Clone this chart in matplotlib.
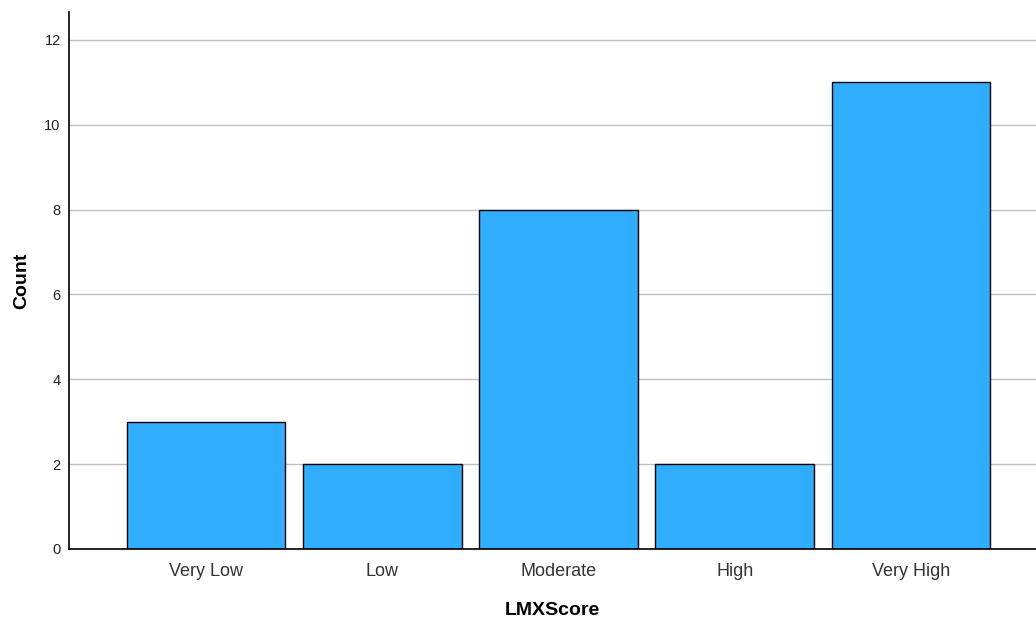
import matplotlib.pyplot as plt

categories = ['Very Low', 'Low', 'Moderate', 'High', 'Very High']
counts = [3, 2, 8, 2, 11]
y_ticks = [0, 2, 4, 6, 8, 10, 12]

plt.rcParams['font.family'] = ['Liberation Sans', 'DejaVu Sans']

fig = plt.figure(figsize=(10.36, 6.2), dpi=100)
ax = fig.add_axes([69 / 1036, 1 - 549 / 620, 1 - 69 / 1036, (549 - 12) / 620])

x = range(len(categories))
ax.bar(x, counts, width=0.9, color='#31adff', edgecolor='black', linewidth=1.0, zorder=3)

ax.set_xlim(-0.777, 4.709)
ax.set_ylim(0, 12.66)
ax.set_yticks(y_ticks)
ax.set_xticks(list(x))
ax.set_xticklabels(categories, fontsize=13, color='#333333')
ax.tick_params(axis='y', labelsize=10.5, length=0, pad=6, labelcolor='#222222')
ax.tick_params(axis='x', length=0, pad=10)
ax.yaxis.grid(True, color='#c0c0c0', linewidth=1.0, zorder=0)

for side in ['top', 'right']:
    ax.spines[side].set_visible(False)
ax.spines['left'].set_linewidth(1.2)
ax.spines['bottom'].set_linewidth(1.2)
ax.spines['left'].set_zorder(4)
ax.spines['bottom'].set_zorder(4)

ax.set_xlabel('LMXScore', fontsize=14, fontweight='bold', labelpad=16)
ax.set_ylabel('Count', fontsize=14, fontweight='bold', labelpad=10)

fig.savefig('out.png', dpi=100)
